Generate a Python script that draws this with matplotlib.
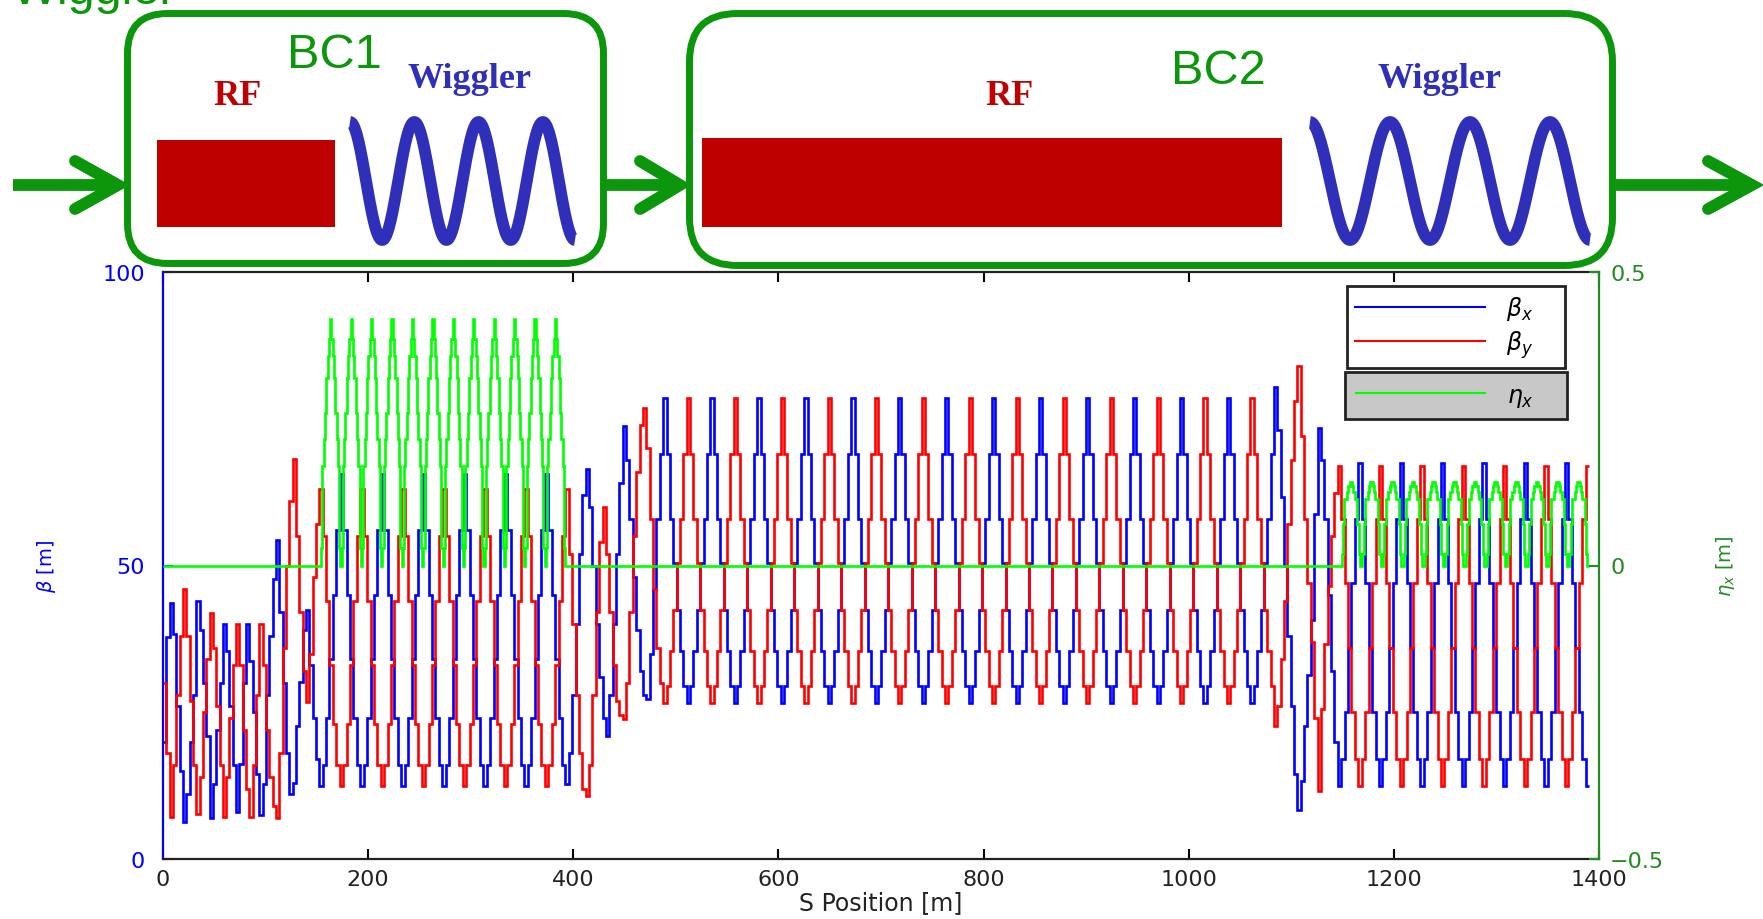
import numpy as np
import matplotlib
matplotlib.use("Agg")
import matplotlib.pyplot as plt
from matplotlib.patches import FancyBboxPatch, Rectangle
from matplotlib.lines import Line2D

# ---------------------------------------------------------------
# Twiss functions along the machine, one value per element step.
# Periodic sections are given as one cell that repeats n times.
# ---------------------------------------------------------------

# linac and first matching section, 0 - 152.3 m (47 steps)
linac_bx = [20, 37.8, 43.6, 38.4, 26, 15, 6.3, 11, 20, 28, 44, 39, 30, 20.9, 6.9, 12.7,
            22, 30, 40, 35.5, 26, 16, 8, 16.2, 30, 40, 33.7, 25, 14.5, 7.5, 12.7, 28,
            38, 47.7, 54.4, 42, 30, 18, 11, 13, 22.6, 30.2, 39, 42.5, 33, 24, 17]
linac_by = [30, 18, 7.2, 16, 28, 38, 46, 38, 27, 16, 7.7, 14, 25, 34, 41.9, 36,
            26, 16, 7.2, 14, 24, 33, 40, 33, 22, 12, 7.2, 16, 28, 40, 33, 22,
            14, 9, 6.9, 18, 36, 50, 61, 68.1, 55, 42, 32, 26.7, 35, 48, 57]

# BC1 wiggler cell, 40 m (12 steps), 6 cells
bc1_bx = [12.4, 16, 24, 34, 45, 56, 65.6, 56, 45, 34, 24, 16]
bc1_by = [63, 55, 44, 33, 23, 16, 12.4, 16, 23, 33, 44, 55]
n_bc1 = 6

# matching BC1 -> BC2 linac, 392.3 - 487.7 m (29 steps)
match2_bx = [12.7, 18, 28, 40, 52, 62, 66.4, 60, 50, 40, 31, 24, 20.9, 28, 40,
             52, 64, 73.8, 68, 58, 48, 39, 32, 28, 27.3, 35, 46, 58, 69]
match2_by = [63, 52, 40, 28, 18, 12, 10.7, 16, 28, 42, 54, 60, 52, 42, 33,
             27, 24.5, 23.8, 30, 42, 55, 66, 74, 76.8, 70, 58, 46, 36, 30]

# BC2 RF FODO cell, 45.8 m (14 steps), 13 cells
bc2_bx = [78.5, 69, 58, 50.5, 42.5, 35.5, 29.5, 26.5, 29.5, 35.5, 42.5, 50.5, 58, 69]
bc2_by = [26.5, 29.5, 35.5, 42.5, 50.5, 58, 69, 78.5, 69, 58, 50.5, 42.5, 35.5, 29.5]
n_bc2 = 13

# matching into the BC2 wiggler, 1083.1 - 1145.2 m (19 steps)
match3_bx = [80.4, 73, 61.7, 50, 38, 26, 14.5, 8.3, 13.3, 22.6, 31.4, 40.7, 58.8,
             73.4, 68, 58, 45, 32, 20]
match3_by = [22.6, 26, 34, 44, 57, 68, 78, 84, 72, 58, 47, 37, 24, 11.5, 25.5,
             36.6, 46.5, 55, 62.3]

# BC2 wiggler cell, 40.3 m (12 steps), 6 cells, plus the last step
wig_bx = [12.5, 17, 25, 36, 47, 58, 67.4, 58, 47, 36, 25, 17]
wig_by = [67, 58, 47, 36, 25, 17, 12.5, 17, 25, 36, 47, 58]
n_wig = 6
tail_bx = [12.5]
tail_by = [67]

# dispersion inside the two wigglers, one ~20 m period (16 steps), 12 periods each
bc1_eta = [0.0, 0.03, 0.17, 0.215, 0.26, 0.32, 0.357, 0.386, 0.42, 0.386,
           0.357, 0.32, 0.26, 0.215, 0.17, 0.03]
bc2_eta = [0.0, 0.02, 0.07, 0.113, 0.113, 0.125, 0.135, 0.143, 0.143, 0.135,
           0.125, 0.113, 0.113, 0.07, 0.02, 0.0]
n_eta = 12

# section boundaries along s [m]
s_linac = (0.0, 152.3, len(linac_bx))
s_bc1 = (152.3, 392.3, n_bc1 * len(bc1_bx))
s_match2 = (392.3, 487.7, len(match2_bx))
s_bc2 = (487.7, 1083.1, n_bc2 * len(bc2_bx))
s_match3 = (1083.1, 1145.2, len(match3_bx))
s_wig = (1145.2, 1387.0, n_wig * len(wig_bx))
s_tail = (1387.0, 1390.4, 1)
eta_sections = [(0.0, 153.0, 1), (153.0, 392.0, n_eta * len(bc1_eta)),
                (392.0, 1148.0, 1), (1148.0, 1390.0, n_eta * len(bc2_eta))]


def build_edges(sections):
    edges = [sections[0][0]]
    for start, end, n in sections:
        edges.extend(np.linspace(start, end, n + 1)[1:])
    return np.array(edges)


beta_edges = build_edges([s_linac, s_bc1, s_match2, s_bc2, s_match3, s_wig, s_tail])
beta_x = np.concatenate([linac_bx, bc1_bx * n_bc1, match2_bx, bc2_bx * n_bc2,
                         match3_bx, wig_bx * n_wig, tail_bx])
beta_y = np.concatenate([linac_by, bc1_by * n_bc1, match2_by, bc2_by * n_bc2,
                         match3_by, wig_by * n_wig, tail_by])
eta_edges = build_edges(eta_sections)
eta_x = np.concatenate([[0.0], bc1_eta * n_eta, [0.0], bc2_eta * n_eta])

GREEN = "#0b960b"
AXGREEN = "#228b22"
RED = "#bf0000"
WIGBLUE = "#2f2fb9"

fig = plt.figure(figsize=(17.63, 9.20), dpi=100)

# ---------------- lattice plot ----------------
W, H = 1763.0, 920.0
ax = fig.add_axes([163 / W, 1 - 860 / H, (1599 - 163) / W, (860 - 273) / H])
ax.stairs(beta_x, beta_edges, baseline=None, color="#0000ff", lw=1.9)
ax.stairs(beta_y, beta_edges, baseline=None, color="#ff0000", lw=1.9)
ax.set_xlim(0, 1400)
ax.set_ylim(0, 100)
ax.set_xticks(range(0, 1401, 200))
ax.set_yticks([0, 50, 100])
ax.tick_params(axis="x", top=True, direction="in", length=7, width=1.5,
               labelsize=16, labelcolor="#222222", pad=7)
ax.tick_params(axis="y", right=False, direction="in", length=7, width=1.5,
               color="#0000ff", labelsize=16, labelcolor="#0000ff", pad=13)
for side in ("top", "bottom"):
    ax.spines[side].set_linewidth(1.6)
    ax.spines[side].set_color("#222222")
ax.spines["left"].set_color("#0000ff")
ax.spines["left"].set_linewidth(1.6)
ax.spines["right"].set_visible(False)
ax.set_xlabel("S Position [m]", fontsize=17, color="#222222", labelpad=1)
ax.set_ylabel(r"$\beta$ [m]", fontsize=14, color="#0000ff", labelpad=32)

ax2 = ax.twinx()
ax2.stairs(eta_x, eta_edges, baseline=None, color="#00ff00", lw=1.9)
ax2.set_ylim(-0.5, 0.5)
ax2.set_yticks([-0.5, 0, 0.5], labels=["\u22120.5", "0", "0.5"])
ax2.tick_params(axis="y", direction="in", length=7, width=1.5, color=AXGREEN,
                labelsize=16, labelcolor=AXGREEN, pad=8)
ax2.spines["right"].set_color(AXGREEN)
ax2.spines["right"].set_linewidth(1.6)
ax2.spines["left"].set_visible(False)
ax2.spines["top"].set_visible(False)
ax2.spines["bottom"].set_visible(False)
ax2.set_ylabel(r"$\eta_x$ [m]", fontsize=14, color=AXGREEN, labelpad=36)

leg1 = ax2.legend([Line2D([], [], color="#0000ff", lw=1.5), Line2D([], [], color="#ff0000", lw=1.5)],
                  [r"$\beta_x$", r"$\beta_y$"], loc="upper left",
                  bbox_to_anchor=(1347 / W, 1 - 287 / H, 218 / W, 0), bbox_transform=fig.transFigure,
                  mode="expand", borderaxespad=0, fontsize=17, handlelength=5.5,
                  handletextpad=0.9, borderpad=0.35, labelspacing=0.25,
                  fancybox=False, framealpha=1, edgecolor="#222222", facecolor="white")
leg1.get_frame().set_linewidth(2)
ax2.add_artist(leg1)
leg2 = ax2.legend([Line2D([], [], color="#00ff00", lw=1.5)], [r"$\eta_x$"], loc="upper left",
                  bbox_to_anchor=(1345 / W, 1 - 373 / H, 222 / W, 0), bbox_transform=fig.transFigure,
                  mode="expand", borderaxespad=0, fontsize=17, handlelength=5.5,
                  handletextpad=0.9, borderpad=0.45,
                  fancybox=False, framealpha=1, edgecolor="#222222", facecolor="#c8c8c8")
leg2.get_frame().set_linewidth(2)

# ---------------- layout sketch above ----------------
dax = fig.add_axes([0, 1 - 275 / H, 1, 275 / H])
dax.set_xlim(0, W)
dax.set_ylim(275, 0)
dax.axis("off")

for x0, x1, y0, y1, r in [(124, 607, 11, 268, 40), (686, 1616, 11, 270, 48)]:
    dax.add_patch(FancyBboxPatch((x0 + 3.5, y0 + 3.5), x1 - x0 - 7, y1 - y0 - 7,
                                 boxstyle=f"round,pad=0,rounding_size={r}",
                                 fill=False, ec=GREEN, lw=5))

for shaft, head in [((13, 118), (75, 118)), ((607, 680), (640, 680)), ((1616, 1750), (1708, 1752))]:
    dax.plot(shaft, (186, 186), color=GREEN, lw=8.5, solid_capstyle="butt")
    dax.plot((head[0], head[1], head[0]), (162, 186, 210), color=GREEN, lw=8.5,
             solid_capstyle="round", solid_joinstyle="miter")

dax.add_patch(Rectangle((157, 141), 178, 87, color=RED, lw=0))
dax.add_patch(Rectangle((702, 139), 580, 89, color=RED, lw=0))

for xa, xb in [(350, 575), (1310, 1590)]:
    xs = np.linspace(xa, xb, 400)
    period = (xb - xa) / 3.5
    dax.plot(xs, 182 - 59 * np.cos(2 * np.pi * (xs - xa) / period), color=WIGBLUE,
             lw=8.5, solid_capstyle="butt")

narrow = ["Liberation Sans Narrow", "Liberation Sans", "DejaVu Sans"]
dax.text(334, 56, "BC1", color=GREEN, fontsize=35, family=narrow, ha="center", va="center")
dax.text(1218, 71, "BC2", color=GREEN, fontsize=35, family=narrow, ha="center", va="center")
dax.text(12, 4, "Wiggler", color=GREEN, fontsize=35, family=narrow, ha="left", va="baseline")
for x, lab, col in [(238, "RF", RED), (470, "Wiggler", WIGBLUE), (1010, "RF", RED), (1440, "Wiggler", WIGBLUE)]:
    dax.text(x, 105 if lab == "RF" else 88, lab, color=col, fontsize=26, family="Liberation Serif",
             weight="bold", ha="center", va="baseline")

fig.savefig("out.png", dpi=100)
